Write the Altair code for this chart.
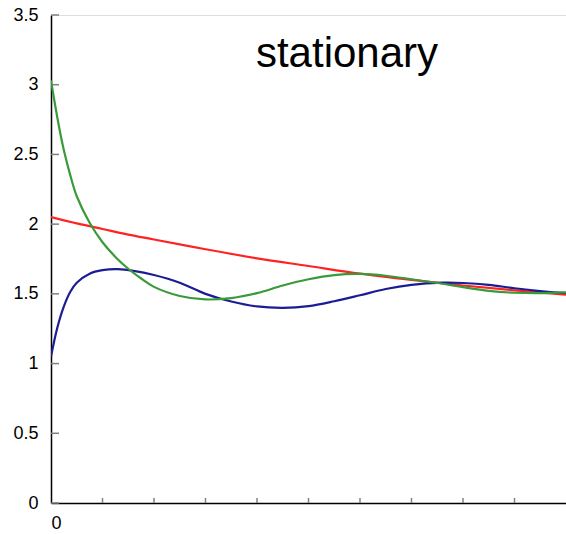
import altair as alt
import pandas as pd

# ---- data ----
red_x = [0, 0.5, 1, 1.5, 2, 3, 4, 5, 6, 7, 8, 9, 10]
red_y = [2.05, 2.005, 1.965, 1.925, 1.89, 1.82, 1.755, 1.70, 1.645, 1.60, 1.56, 1.525, 1.495]

blue_x = [0, 0.125, 0.25, 0.375, 0.5, 0.75, 1.0, 1.3, 1.6, 2.0, 2.5, 3.0, 3.5, 4.0, 4.5,
          5.0, 5.5, 6.0, 6.5, 7.0, 7.6, 8.0, 8.5, 9.0, 9.5, 10]
blue_y = [1.05, 1.26, 1.41, 1.515, 1.58, 1.645, 1.67, 1.677, 1.665, 1.635, 1.58, 1.50, 1.445,
          1.41, 1.40, 1.412, 1.447, 1.49, 1.535, 1.565, 1.58, 1.578, 1.565, 1.54, 1.52, 1.506]

green_x = [0, 0.125, 0.25, 0.375, 0.5, 0.75, 1.0, 1.25, 1.5, 1.75, 2.0, 2.5, 3.0, 3.5,
           4.0, 4.5, 5.0, 5.5, 6.0, 6.5, 7.0, 7.5, 8.0, 8.5, 9.0, 9.5, 10]
green_y = [3.03, 2.76, 2.53, 2.35, 2.20, 2.01, 1.87, 1.765, 1.68, 1.61, 1.55, 1.485, 1.46, 1.47,
           1.505, 1.56, 1.605, 1.635, 1.643, 1.63, 1.605, 1.578, 1.548, 1.522, 1.508, 1.505, 1.51]

y_tick_values = [0, 0.5, 1, 1.5, 2, 2.5, 3, 3.5]
x_tick_values = [1, 2, 3, 4, 5, 6, 7, 8, 9]
title_text = ["stationary"]

series_names = ["red", "blue", "green"]
series_colors = ["#ff2222", "#1c1c94", "#3a9a3a"]

rows = []
for name, xs, ys in [("red", red_x, red_y), ("blue", blue_x, blue_y), ("green", green_x, green_y)]:
    for xv, yv in zip(xs, ys):
        rows.append({"series": name, "x": xv, "y": yv})
df = pd.DataFrame(rows)

FONT = "Liberation Sans"

xscale = alt.Scale(domain=[0, 10], nice=False, zero=False)
yscale = alt.Scale(domain=[0, 3.5], nice=False, zero=False)

lines = alt.Chart(df).mark_line(strokeWidth=2.2, interpolate="catmull-rom", clip=True).encode(
    x=alt.X("x:Q", scale=xscale,
            axis=alt.Axis(values=[0], title=None, grid=False, ticks=False, tickSize=0,
                          labelPadding=11, labelFontSize=18, labelFont=FONT,
                          labelColor="black", domainColor="black", domainWidth=1.5,
                          format="~g")),
    y=alt.Y("y:Q", scale=yscale,
            axis=alt.Axis(values=y_tick_values, title=None, grid=False, ticks=False, tickSize=0,
                          labelPadding=13, labelFontSize=18, labelFont=FONT,
                          labelColor="black", domainColor="black", domainWidth=1.5,
                          format="~g")),
    color=alt.Color("series:N", scale=alt.Scale(domain=series_names, range=series_colors),
                    legend=None),
    detail="series:N",
)

ytick_df = pd.DataFrame({"v": y_tick_values})
yticks = alt.Chart(ytick_df).mark_rule(color="#808080", strokeWidth=1.5).encode(
    y=alt.Y("v:Q", scale=yscale),
    x=alt.value(0),
    x2=alt.value(8),
)

xtick_df = pd.DataFrame({"v": x_tick_values})
xticks = alt.Chart(xtick_df).mark_rule(color="#808080", strokeWidth=1.5).encode(
    x=alt.X("v:Q", scale=xscale),
    y=alt.value(488),
    y2=alt.value(483),
)

title_df = pd.DataFrame({"t": title_text})
title = alt.Chart(title_df).mark_text(
    font=FONT, fontSize=42, color="black", align="center", baseline="alphabetic"
).encode(
    text="t:N",
    x=alt.value(296),
    y=alt.value(52),
)

chart = alt.layer(yticks, xticks, lines, title).properties(
    width=515,
    height=488,
    autosize=alt.AutoSizeParams(type="none"),
    padding={"left": 51, "top": 15, "right": 0, "bottom": 31},
).configure_view(stroke=None).configure(background="white")

chart.save("out.html", embed_options={"renderer": "svg", "actions": False})
